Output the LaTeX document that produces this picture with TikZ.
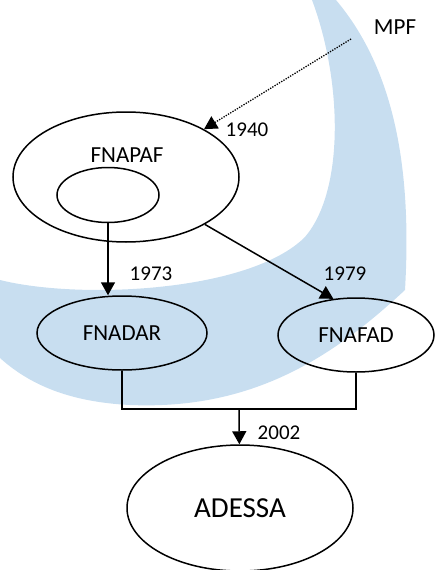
\documentclass[tikz,border=0pt]{standalone}
\usepackage{fontspec}
\setmainfont{Carlito}
\usetikzlibrary{shapes.geometric,arrows.meta}

\definecolor{wmblue}{RGB}{200,222,240}

\begin{document}
\begin{tikzpicture}[
    x=1pt, y=-1pt,
    line width=1.5pt,
    every node/.style={font=\fontsize{23}{27}\selectfont},
    org/.style={draw, ellipse, inner sep=0pt},
    year/.style={font=\fontsize{21}{25}\selectfont},
    link/.style={draw, -{Triangle[length=13pt,width=14pt]}},
]
\useasboundingbox (0,0) rectangle (435,570);
% watermark behind everything
\fill[wmblue] (336,0) .. controls (395,70) and (412,170) .. (405,290)
    .. controls (330,360) and (250,410) .. (130,405)
    .. controls (70,402) and (30,385) .. (0,358) -- (0,280)
    .. controls (80,300) and (250,292) .. (305,237)
    .. controls (345,190) and (342,80) .. (312,0) -- cycle;

\node[org, minimum width=226pt, minimum height=130pt] (fnapaf) at (126,177) {};
\node (fnapaflabel) at (127,155) {FNAPAF};
\node[org, minimum width=102pt, minimum height=55pt] (inner) at (108,195) {};
\node[org, minimum width=170pt, minimum height=74pt] (fnadar) at (122,333) {FNADAR};
\node[org, minimum width=156pt, minimum height=74pt] (fnafad) at (356,335) {FNAFAD};
\node[org, minimum width=226pt, minimum height=126pt,
      font=\fontsize{29}{34}\selectfont] (adessa) at (240,508) {ADESSA};
\node (mpf) at (395,27) {MPF};
\coordinate (mpfend) at (351,39);
\coordinate (join) at (239,409);

\node[year] (y1940) at (247,130) {1940};
\node[year] (y1973) at (151,274) {1973};
\node[year] (y1979) at (345,274) {1979};
\node[year] (y2002) at (279,433) {2002};

\draw[link, line width=1.3pt, dash pattern=on 1.3pt off 1.3pt] (mpfend) -- (fnapaf);
\draw[link] (inner.south) -- (inner.south |- fnadar.north);
\draw[link] (fnapaf.-31) -- (fnafad.122);
\draw (fnadar.south) |- (join) -| (fnafad.south);
\draw[link] (join) -- (adessa);
\end{tikzpicture}
\end{document}
